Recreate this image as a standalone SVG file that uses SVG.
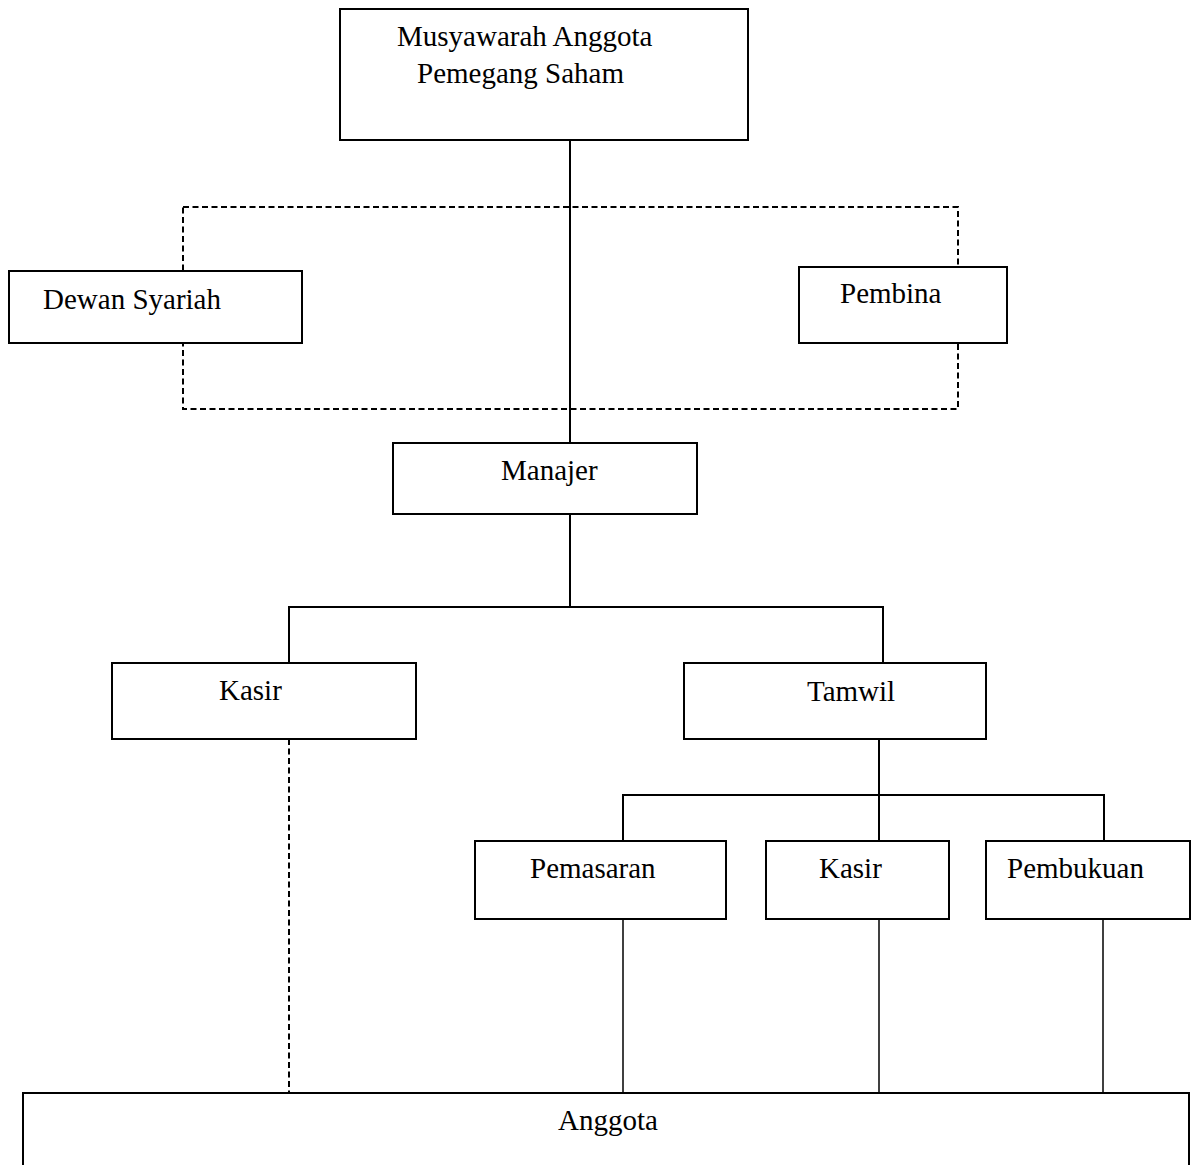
<svg xmlns="http://www.w3.org/2000/svg" width="1196" height="1165" viewBox="0 0 1196 1165">
<style>
.box{fill:#fff;stroke:#000;stroke-width:2}
.t{font-family:"Liberation Serif","Times New Roman",serif;font-size:29px;fill:#000}
.ln{fill:none;stroke:#000;stroke-width:2}
.thin{fill:none;stroke:#000;stroke-width:1.5}
.dash{fill:none;stroke:#000;stroke-width:2;stroke-dasharray:6 3.5}
</style>
<rect width="1196" height="1165" fill="#fff"/>
<g id="connectors">
<rect class="dash" x="183" y="207" width="775" height="202"/>
<line class="ln" x1="570" y1="140" x2="570" y2="443"/>
<polyline class="ln" points="570,514 570,607"/>
<polyline class="ln" points="289,663 289,607 883,607 883,663"/>
<line class="ln" x1="879" y1="739" x2="879" y2="841"/>
<polyline class="ln" points="623,841 623,795 1104,795 1104,841"/>
<line class="dash" x1="289" y1="739" x2="289" y2="1093"/>
<line class="thin" x1="623" y1="919" x2="623" y2="1093"/>
<line class="thin" x1="879" y1="919" x2="879" y2="1093"/>
<line class="thin" x1="1103" y1="919" x2="1103" y2="1093"/>
</g>
<g id="musyawarah">
<rect class="box" x="340" y="9" width="408" height="131"/>
<text class="t" x="397" y="46">Musyawarah Anggota</text>
<text class="t" x="417" y="83">Pemegang Saham</text>
</g>
<g id="dewan-syariah">
<rect class="box" x="9" y="271" width="293" height="72"/>
<text class="t" x="43" y="309">Dewan Syariah</text>
</g>
<g id="pembina">
<rect class="box" x="799" y="267" width="208" height="76"/>
<text class="t" x="840" y="303">Pembina</text>
</g>
<g id="manajer">
<rect class="box" x="393" y="443" width="304" height="71"/>
<text class="t" x="501" y="480">Manajer</text>
</g>
<g id="kasir1">
<rect class="box" x="112" y="663" width="304" height="76"/>
<text class="t" x="219" y="700">Kasir</text>
</g>
<g id="tamwil">
<rect class="box" x="684" y="663" width="302" height="76"/>
<text class="t" x="807" y="701">Tamwil</text>
</g>
<g id="pemasaran">
<rect class="box" x="475" y="841" width="251" height="78"/>
<text class="t" x="530" y="878">Pemasaran</text>
</g>
<g id="kasir2">
<rect class="box" x="766" y="841" width="183" height="78"/>
<text class="t" x="819" y="878">Kasir</text>
</g>
<g id="pembukuan">
<rect class="box" x="986" y="841" width="204" height="78"/>
<text class="t" x="1007" y="878">Pembukuan</text>
</g>
<g id="anggota">
<rect class="box" x="23" y="1093" width="1166" height="90"/>
<text class="t" x="558" y="1130">Anggota</text>
</g>
</svg>
